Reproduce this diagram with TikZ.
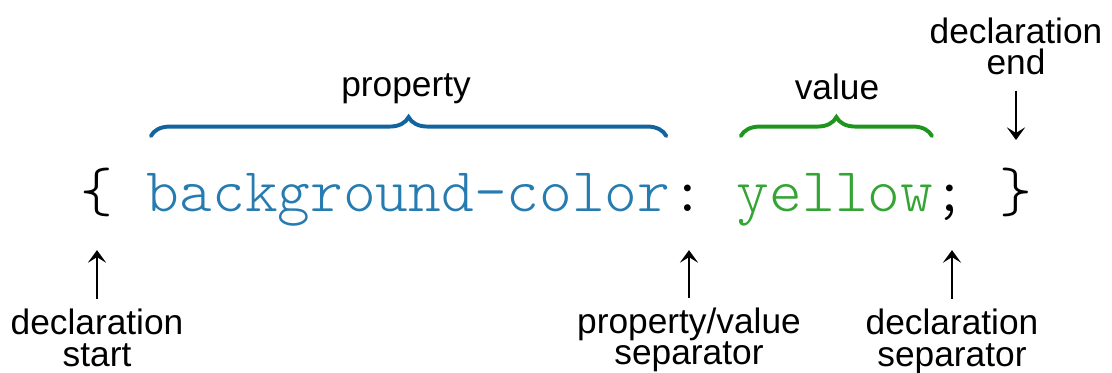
\documentclass[tikz,border=0pt]{standalone}
\usepackage{fontspec}
\setmainfont{Liberation Sans}
\newfontfamily\codefont{lmmonolt10-regular}[Extension=.otf]
\usetikzlibrary{arrows.meta,decorations.pathreplacing}
\definecolor{propblue}{RGB}{38,124,176}
\definecolor{propbrace}{RGB}{17,100,158}
\definecolor{valgreen}{RGB}{52,165,52}
\definecolor{valbrace}{RGB}{30,150,30}

\begin{document}
\begin{tikzpicture}[x=0.025cm,y=-0.025cm,>={Stealth[length=9pt,width=13pt,inset=4pt]},
  code/.style={font=\codefont\fontsize{44.3}{46}\selectfont,inner sep=0,anchor=base,
    text height=24.8pt,text depth=0pt},
  note/.style={font=\fontsize{25.1}{22.7}\selectfont,align=center,inner sep=0,anchor=base},
  ptr/.style={->,line width=1.6pt},
  curly/.style={decorate,decoration={brace,amplitude=13.5pt},line width=2.8pt,line cap=round}]

  \useasboundingbox (0,0) rectangle (1112,373);

  % the declaration itself
  \node[code] (ob) at (97,212) {\{};
  \node[code,text=propblue] (prop) at (408.6,212) {background-color};
  \node[code] (colon) at (687.4,212) {:};
  \node[code,text=valgreen] (val) at (835,212) {yellow};
  \node[code] (semi) at (950,212) {;};
  \node[code] (cb) at (1015.4,212) {\}};

  % labels (base = last line)
  \node[note] (proplabel) at (406,97) {property};
  \node[note] (vallabel) at (837,100) {value};
  \node[note] (endlabel) at (1016,75) {declaration\\end};
  \node[note] (startlabel) at (97,366) {declaration\\start};
  \node[note] (pvlabel) at (689,365) {property/value\\separator};
  \node[note] (seplabel) at (952,366) {declaration\\separator};

  % braces
  \draw[curly,propbrace] ([xshift=3pt,yshift=29pt]prop.north west) -- ([xshift=-3pt,yshift=29pt]prop.north east);
  \draw[curly,valbrace] ([xshift=3pt,yshift=29pt]val.north west) -- ([xshift=-1pt,yshift=29pt]val.north east);

  % pointers
  \draw[ptr,shorten <=6.4pt,shorten >=26.9pt] (startlabel.north) -- (startlabel |- ob.south);
  \draw[ptr,shorten <=6.4pt,shorten >=26.9pt] (pvlabel.north) -- (pvlabel |- colon.south);
  \draw[ptr,shorten <=6.4pt,shorten >=26.9pt] (seplabel.north) -- (seplabel |- semi.south);
  \draw[ptr,shorten <=10.6pt,shorten >=26.2pt] (endlabel.south) -- (endlabel |- cb.north);
\end{tikzpicture}
\end{document}
